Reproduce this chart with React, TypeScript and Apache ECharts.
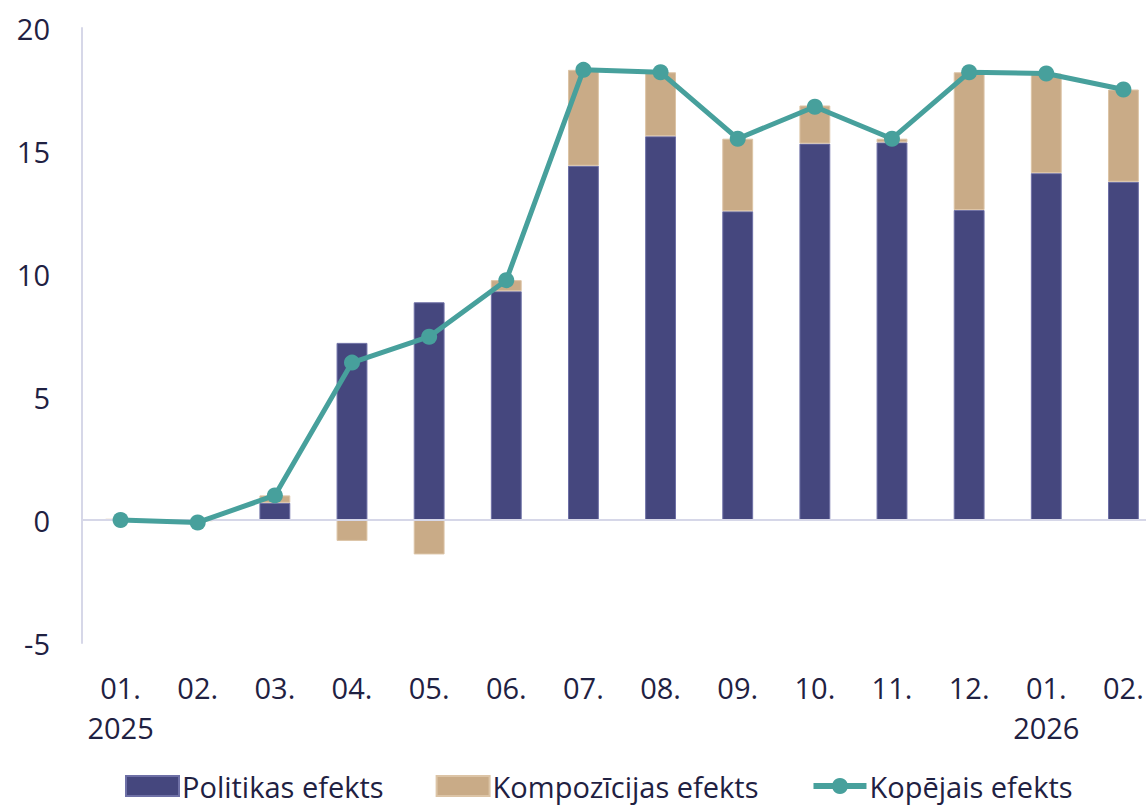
import React, { useEffect, useRef } from "react";
import * as echarts from "echarts";

const categories = ["01.\n2025", "02.", "03.", "04.", "05.", "06.", "07.", "08.", "09.", "10.", "11.", "12.", "01.\n2026", "02."];
const policyEffect = [0, 0, 0.7, 7.2, 8.85, 9.3, 14.4, 15.6, 12.55, 15.3, 15.35, 12.6, 14.1, 13.75];
const compositionEffect = [0.05, -0.05, 0.3, -0.85, -1.4, 0.45, 3.9, 2.6, 2.95, 1.55, 0.15, 5.6, 4.05, 3.75];
const totalEffect = [0.0, -0.1, 1.0, 6.4, 7.45, 9.75, 18.3, 18.2, 15.5, 16.8, 15.5, 18.2, 18.15, 17.5];
const seriesNames = ["Politikas efekts", "Kompozīcijas efekts", "Kopējais efekts"];
const yTicks = { min: -5, max: 20, interval: 5 };

const TEXT = "#1f2142";
const AXIS = "#d6d7e8";
const FONT = "Open Sans";

export default function App() {
  const ref = useRef<HTMLDivElement>(null);
  useEffect(() => {
    const chart = echarts.init(ref.current!, null, { renderer: "svg" });
    chart.setOption({
      animation: false,
      textStyle: { fontFamily: FONT, color: TEXT },
      grid: { left: 82, width: 1080, top: 28, bottom: 163, containLabel: false },
      legend: {
        left: 125,
        top: 771,
        padding: 0,
        itemWidth: 53,
        itemHeight: 20,
        itemGap: 52,
        textStyle: { fontFamily: FONT, fontSize: 29, lineHeight: 30, color: TEXT, padding: [0, 0, 0, -2] },
        data: [
          { name: seriesNames[0], icon: "rect" },
          { name: seriesNames[1], icon: "rect" },
          { name: seriesNames[2], lineStyle: { width: 6 } },
        ],
      },
      xAxis: {
        type: "category",
        data: categories,
        axisLine: { show: false, onZero: false },
        axisTick: { show: false },
        axisLabel: { color: TEXT, fontSize: 29, fontFamily: FONT, lineHeight: 40, margin: 24, interval: 0 },
      },
      yAxis: {
        type: "value",
        min: yTicks.min,
        max: yTicks.max,
        interval: yTicks.interval,
        axisLine: { show: true, lineStyle: { color: AXIS, width: 2 } },
        axisTick: { show: false },
        splitLine: { show: false },
        axisLabel: { color: TEXT, fontSize: 29, fontFamily: FONT, margin: 32 },
      },
      series: [
        {
          name: seriesNames[0],
          type: "bar",
          stack: "effects",
          barWidth: "40%",
          data: policyEffect,
          itemStyle: { color: "#45477e", borderColor: "#6e70a6", borderWidth: 1 },
          markLine: {
            silent: true,
            symbol: "none",
            label: { show: false },
            lineStyle: { color: AXIS, width: 2, type: "solid" },
            data: [{ yAxis: 0 }],
          },
        },
        {
          name: seriesNames[1],
          type: "bar",
          stack: "effects",
          barWidth: "40%",
          data: compositionEffect,
          itemStyle: { color: "#c9ab87", borderColor: "#dcc4a6", borderWidth: 1 },
        },
        {
          name: seriesNames[2],
          type: "line",
          data: totalEffect,
          symbol: "circle",
          symbolSize: 16,
          lineStyle: { color: "#47a09c", width: 5 },
          itemStyle: { color: "#47a09c" },
          z: 5,
        },
      ],
    });
    return () => chart.dispose();
  }, []);
  return (
    <div style={{ position: "absolute", left: 0, top: 0, width: 1146, height: 806, overflow: "hidden" }}>
      <div ref={ref} style={{ width: 1170, height: 806 }} />
    </div>
  );
}
